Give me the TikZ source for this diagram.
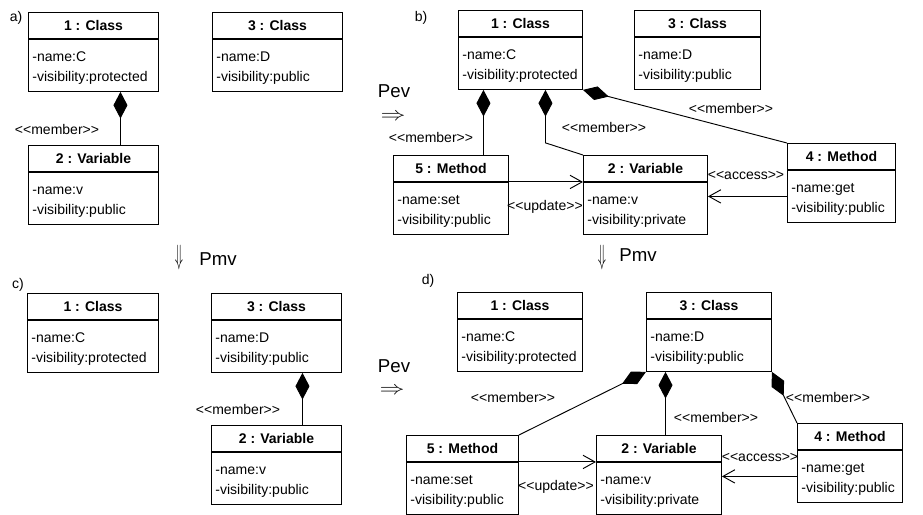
\documentclass[tikz,border=0pt]{standalone}
\usepackage{fontspec}
\setmainfont{Liberation Sans}
\usepackage{graphicx}
\usetikzlibrary{arrows.meta}
\usetikzlibrary{calc}
\usetikzlibrary{positioning}

\newcommand{\attrfont}{\fontsize{10.5}{15}\selectfont\exhyphenpenalty=10000\relax\hbadness=10000\relax}

\tikzset{
  objhead/.style={draw, line width=0.7pt, inner sep=0pt, minimum height=19.5pt,
    anchor=north west, font=\fontsize{10.5}{12}\selectfont\bfseries},
  objattr/.style={draw, line width=0.7pt, inner xsep=3pt, inner ysep=0pt,
    text height=16.5pt, text depth=22.5pt, align=left, anchor=north,
    font=\attrfont},
  member/.style={line width=0.7pt, {Diamond[length=20pt,width=10.5pt]}-},
  dep/.style={line width=0.7pt, -{Straight Barb[length=9pt,width=10pt]}},
  stereo/.style={inner sep=1pt, font=\fontsize{10.5}{12}\selectfont},
  panel/.style={inner sep=0pt, font=\fontsize{10.5}{12}\selectfont},
  trans/.style={inner sep=0pt, font=\fontsize{14}{16}\selectfont},
}

% object box: name, left, top, width (px), title, attributes
\newcommand{\umlobj}[6]{%
  \pgfmathsetmacro{\objw}{#4*0.75}%
  \pgfmathsetmacro{\objtw}{#4*0.75-6}%
  \node[objhead, minimum width=\objw pt] (#1) at (#2,#3) {#5};
  \node[objattr, text width=\objtw pt] (#1at) at (#1.south) {#6};
}
\newcommand{\stype}[1]{<{}<#1>{}>}

\begin{document}
\begin{tikzpicture}[x=0.75pt, y=-0.75pt]
\path[fill=white] (0,0) rectangle (923,514);

% panel labels
\node[panel] (la) at (16,18) {a)};
\node[panel] (lb) at (421,18) {b)};
\node[panel] (lc) at (18,285) {c)};
\node[panel] (ld) at (428,281) {d)};

% a) starting model
\umlobj{a1}{28}{12}{130}{1 : Class}{-name:C\\-visibility:protected}
\umlobj{a3}{212}{12}{130}{3 : Class}{-name:D\\-visibility:public}
\umlobj{a2}{28}{145}{130}{2 : Variable}{-name:v\\-visibility:public}
\draw[member] ([xshift=20.25pt]a1at.south) -- ([xshift=20.25pt]a1at.south |- a2.north);
\node[stereo] (ma) at (57,129) {\stype{member}};

% transformations
\node[trans] (pev1) at (394,91) {Pev};
\node[trans] (imp1) at (393,117) {\scalebox{1.3}[1]{$\Rightarrow$}};
\node[trans] (pev2) at (394,366) {Pev};
\node[trans] (imp2) at (392,391) {\scalebox{1.3}[1]{$\Rightarrow$}};
\node[trans] (dn1) at (179,258) {\scalebox{0.7}[1.45]{$\Downarrow$}};
\node[trans] (pmv1) at (218,259) {Pmv};
\node[trans] (dn2) at (602,258) {\scalebox{0.7}[1.45]{$\Downarrow$}};
\node[trans] (pmv2) at (638,255) {Pmv};

% b) after Pev
\umlobj{b1}{458}{10}{124}{1 : Class}{-name:C\\-visibility:protected}
\umlobj{b3}{634}{10}{126}{3 : Class}{-name:D\\-visibility:public}
\umlobj{b5}{393}{155}{115}{5 : Method}{-name:set\\-visibility:public}
\umlobj{b2}{583}{155}{124}{2 : Variable}{-name:v\\-visibility:private}
\umlobj{b4}{787}{143}{108}{4 : Method}{-name:get\\-visibility:public}
\draw[member] ([xshift=-27.75pt]b1at.south) -- ([xshift=-27.75pt]b1at.south |- b5.north);
\draw[member] ([xshift=18.75pt]b1at.south) -- ++(0,53) -- (b2.north west);
\draw[member] (b1at.south east) -- (b4.north west);
\draw[dep] (b5.south east) -- (b5.south east -| b2.west);
\draw[dep] (b4at.west) -- (b4at.west -| b2at.east);
\node[stereo] (mb1) at (431,137) {\stype{member}};
\node[stereo] (mb2) at (604,127) {\stype{member}};
\node[stereo] (mb3) at (731,108) {\stype{member}};
\node[stereo] (ub) at (545,207) {\stype{update}};
\node[stereo] (acb) at (746,175) {\stype{access}};

% c) after Pmv
\umlobj{c1}{27}{293}{131}{1 : Class}{-name:C\\-visibility:protected}
\umlobj{c3}{211}{293}{130}{3 : Class}{-name:D\\-visibility:public}
\umlobj{c2}{211}{425}{130}{2 : Variable}{-name:v\\-visibility:public}
\draw[member] ([xshift=19.5pt]c3at.south) -- ([xshift=19.5pt]c3at.south |- c2.north);
\node[stereo] (mc) at (238,409) {\stype{member}};

% d) after Pev and Pmv
\umlobj{d1}{457}{292}{125}{1 : Class}{-name:C\\-visibility:protected}
\umlobj{d3}{646}{292}{125}{3 : Class}{-name:D\\-visibility:public}
\umlobj{d5}{406}{435}{112}{5 : Method}{-name:set\\-visibility:public}
\umlobj{d2}{596}{435}{125}{2 : Variable}{-name:v\\-visibility:private}
\umlobj{d4}{797}{423}{105}{4 : Method}{-name:get\\-visibility:public}
\draw[member] (d3at.south west) -- (d5.north east);
\draw[member] ([xshift=-32.6pt]d3at.south) -- ([xshift=-32.6pt]d3at.south |- d2.north);
\draw[member] (d3at.south east) -- (d4.north west);
\draw[dep] (d5.south east) -- (d5.south east -| d2.west);
\draw[dep] (d4at.west) -- (d4at.west -| d2at.east);
\node[stereo] (md1) at (513,397) {\stype{member}};
\node[stereo] (md2) at (716,417) {\stype{member}};
\node[stereo] (md3) at (828,397) {\stype{member}};
\node[stereo] (ud) at (556,487) {\stype{update}};
\node[stereo] (acd) at (760,457) {\stype{access}};
\end{tikzpicture}
\end{document}
